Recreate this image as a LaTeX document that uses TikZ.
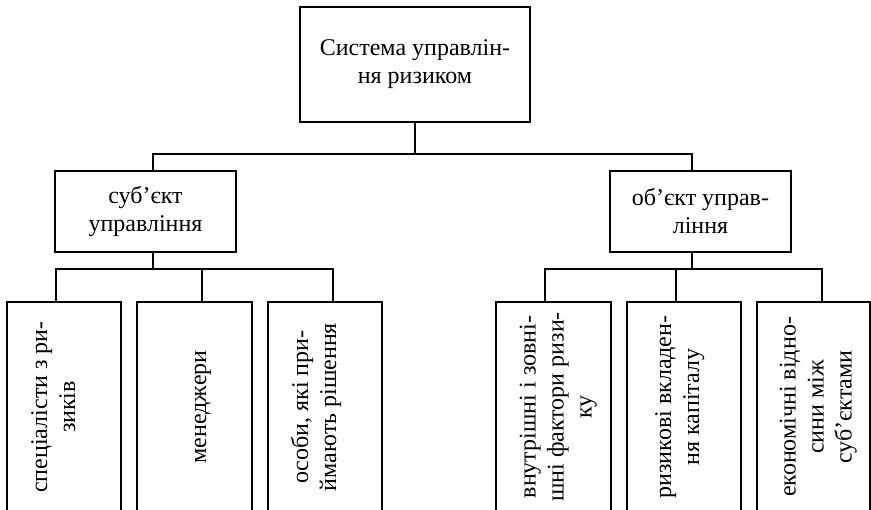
\documentclass[tikz,border=0pt]{standalone}
\usepackage{fontspec}
\setmainfont{Liberation Serif}
\begin{document}
\begin{tikzpicture}[x=1pt,y=-1pt,
  box/.style={draw,line width=1.8pt,inner sep=0pt},
  lbl/.style={font=\fontsize{24}{28}\selectfont,align=center,inner sep=0pt},
  vlbl/.style={lbl,rotate=90},
  conn/.style={line width=1.8pt}]
\useasboundingbox (0,0) rectangle (871,510);
\clip (0,0) rectangle (871,510);
% top level
\node[box,lbl,minimum width=230pt,minimum height=115pt] (sys) at (415,64.5) {Система управлін-\\ня ризиком};
% second level
\node[box,lbl,minimum width=181pt,minimum height=81pt] (subj) at (145.5,211.5) {суб’єкт\\управління};
\node[box,lbl,minimum width=181pt,minimum height=81pt] (obj) at (700.5,211.5) {об’єкт управ-\\ління};
% third level boxes
\node[box,minimum width=114pt,minimum height=213pt] (b1) at (64,408.5) {};
\node[box,minimum width=115pt,minimum height=213pt] (b2) at (194.5,408.5) {};
\node[box,minimum width=114pt,minimum height=213pt] (b3) at (325,408.5) {};
\node[box,minimum width=115pt,minimum height=213pt] (b4) at (553.5,408.5) {};
\node[box,minimum width=114pt,minimum height=213pt] (b5) at (684,408.5) {};
\node[box,minimum width=113pt,minimum height=213pt] (b6) at (813.5,408.5) {};
% vertical labels
\node[vlbl] (t1) at (55.4,407) {\strut спеціалісти з ри-\\зиків\strut};
\node[vlbl] (t2) at (200.5,407) {\strut менеджери\strut};
\node[vlbl] (t3) at (316.5,407) {\strut особи, які при-\\ймають рішення\strut};
\node[vlbl] (t4) at (558,407) {\strut внутрішні і зовні-\\шні фактори ризи-\\ку\strut};
\node[vlbl] (t5) at (679.5,407) {\strut ризикові вкладен-\\ня капіталу\strut};
\node[vlbl] (t6) at (818,407) {\strut економічні відно-\\сини між\\суб’єктами\strut};
% connector junctions
\coordinate (j0) at (415,154);
\coordinate (jL) at (153,154);
\coordinate (jR) at (692,154);
\coordinate (kL) at (153,269);
\coordinate (k1) at (56,269);
\coordinate (k2) at (202,269);
\coordinate (k3) at (333,269);
\coordinate (mR) at (692,269);
\coordinate (m4) at (545,269);
\coordinate (m5) at (676,269);
\coordinate (m6) at (822,269);
% connectors
\draw[conn] (sys.south) -- (j0);
\draw[conn] (jL |- subj.north) -- (jL) -- (jR) -- (jR |- obj.north);
\draw[conn] (kL |- subj.south) -- (kL);
\draw[conn] (k1 |- b1.north) -- (k1) -- (k3) -- (k3 |- b3.north);
\draw[conn] (k2) -- (k2 |- b2.north);
\draw[conn] (mR |- obj.south) -- (mR);
\draw[conn] (m4 |- b4.north) -- (m4) -- (m6) -- (m6 |- b6.north);
\draw[conn] (m5) -- (m5 |- b5.north);
\end{tikzpicture}
\end{document}
